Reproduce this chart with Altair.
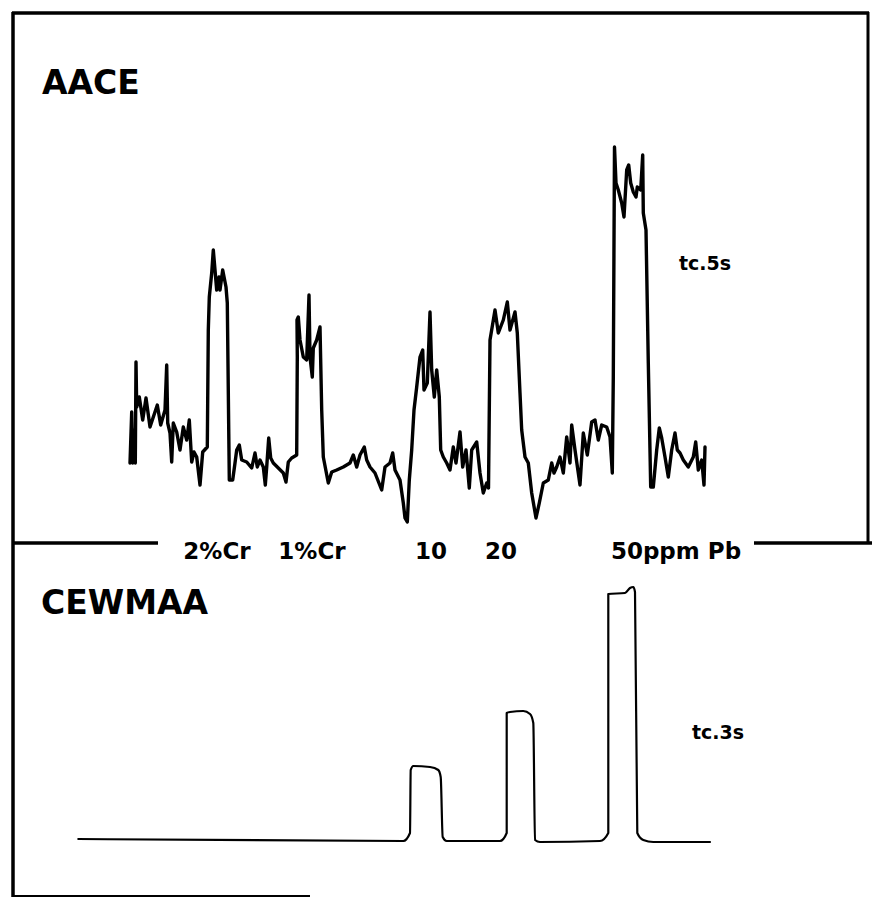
import altair as alt
import pandas as pd

# ---- AACE trace (time, signal in arbitrary units) ----
AACE_T = [130, 131.7, 132.7, 134, 135.3, 136, 136.7, 139.3, 142.7, 146, 150, 157.3, 160.7, 165, 166.7,
          167.7, 170, 171.7, 173.3, 176.7, 180, 183.3, 186.7, 189.3, 191.7, 194, 196.7, 200, 202.7,
          207.3, 208.3, 209.3, 211.7, 213.3, 215, 216.7, 219, 220, 222.7, 226, 227.3, 229.3, 232.7,
          235, 236.7, 239.3, 241.7, 246.7, 251.7, 255, 257.3, 260, 263.3, 265.3, 266.7, 268.7, 270.7,
          273.3, 278.3, 283.3, 286, 288.3, 291.7, 296.7, 297.3, 297.0, 298.3, 300, 303.3, 306.7, 309,
          310, 312.3, 313.3, 316.7, 320, 321.7, 323.3, 328.3, 331.7, 336.7, 343.3, 350, 353.3, 356.7,
          360, 364.3, 366.7, 370, 375, 381.7, 385, 390, 392.7, 395, 400, 403.3, 405, 407.3, 409.3,
          411.7, 414, 416.7, 420, 422.7, 424, 427.3, 430, 431.7, 434.3, 436.7, 439.3, 440.7, 443.3,
          446.7, 450, 453.3, 456, 460, 462.7, 466, 469.3, 471.7, 476.7, 480, 483.3, 486.7, 488.5,
          490, 495, 498.3, 503.3, 507.3, 510, 515, 517.3, 520, 521.7, 525, 528.3, 531.7, 536, 539.3,
          543.3, 548.3, 551.7, 554, 556.7, 560, 563.3, 566.7, 570, 571.7, 575, 580, 583.3, 587.3,
          591.7, 595, 598.3, 601.7, 606.7, 610, 612.3, 613.3, 614.5, 616, 618.3, 621.7, 624, 626.7,
          628.7, 630.7, 633.3, 636, 637.3, 640.7, 642.7, 643.3, 646, 648.3, 650.7, 653.3, 656.7,
          659.3, 661.7, 665, 668.3, 671.7, 675, 677.3, 680, 683.3, 688.3, 693.3, 695.7, 698.3, 701.7,
          704, 705]
AACE_S = [27, 78, 27, 60, 27, 128, 83, 93, 70, 92, 63, 85, 65, 80, 125,
          67, 57, 28, 67, 58, 40, 63, 50, 70, 28, 38, 33, 5, 38,
          43, 160, 193, 217, 240, 220, 200, 213, 200, 220, 203, 187, 10, 10,
          27, 40, 45, 30, 28, 22, 37, 23, 30, 23, 5, 23, 52, 32,
          27, 22, 17, 8, 28, 32, 35, 133, 170, 173, 150, 133, 130, 195,
          133, 113, 142, 150, 163, 80, 33, 7, 18, 20, 23, 27, 35, 23,
          35, 43, 30, 23, 17, 0, 23, 27, 37, 20, 10, -13, -28, -32, 10,
          40, 80, 103, 133, 140, 100, 107, 178, 120, 93, 120, 93, 40, 33,
          27, 20, 43, 27, 58, 23, 40, 2, 40, 48, 17, -3, 7, 2,
          150, 180, 157, 170, 188, 160, 178, 157, 97, 60, 33, 27, -3, -28, -13,
          7, 10, 27, 17, 23, 33, 17, 53, 27, 65, 40, 5, 57, 35,
          68, 70, 50, 65, 63, 53, 17, 113, 343, 307, 300, 287, 273, 320,
          325, 307, 298, 293, 303, 300, 335, 277, 260, 127, 3, 3, 40,
          62, 52, 33, 13, 40, 57, 40, 37, 30, 23, 33, 48, 20, 30,
          5, 43]

# ---- CEWMAA trace ----
CEW_T = [78.3, 403.3, 410, 410.7, 413.3, 430, 438.3, 440.7, 442.7, 446.7, 500, 506.7, 506.7, 510,
         523.3, 530, 533.3, 535, 540, 600, 608.3, 608.3, 625, 630, 633.3, 635, 637.3, 643.3, 653.3, 710]
CEW_S = [1, -1, 7, 70, 74, 73, 70, 63, 3, -1, -1, 7, 127, 128,
         129, 126, 117, 0, -2, -1, 7, 246, 247, 252, 253, 248, 7, 0, -2, -2]

# ---- sample labels ----
LABELS = ["2%Cr", "1%Cr", "10", "20", "50ppm Pb"]
LABEL_T = [217, 312, 431, 501, 676]

FONT = "DejaVu Sans"

top = pd.DataFrame({"t": AACE_T, "s": AACE_S, "i": list(range(len(AACE_T)))})
bot = pd.DataFrame({"t": CEW_T, "s": CEW_S, "i": list(range(len(CEW_T)))})
lab = pd.DataFrame({"t": LABEL_T, "label": LABELS})
dummy = pd.DataFrame({"d": [0]})

xscale = alt.Scale(domain=[0, 872], nice=False, zero=False)

line_top = alt.Chart(top).mark_line(color="black", strokeWidth=3.4, strokeJoin="round", strokeCap="round").encode(
    x=alt.X("t:Q", scale=xscale, axis=None),
    y=alt.Y("s:Q", scale=alt.Scale(domain=[-409, 490], nice=False, zero=False), axis=None),
    order="i:Q",
)
line_bot = alt.Chart(bot).mark_line(color="black", strokeWidth=2.2, strokeJoin="round", strokeCap="round",
                                    interpolate="monotone").encode(
    x=alt.X("t:Q", scale=xscale, axis=None),
    y=alt.Y("s:Q", scale=alt.Scale(domain=[-59, 840], nice=False, zero=False), axis=None),
    order="i:Q",
)


def rule(x1, x2, y1, y2, w):
    return alt.Chart(dummy).mark_rule(color="black", strokeWidth=w).encode(
        x=alt.value(x1), x2=alt.value(x2), y=alt.value(y1), y2=alt.value(y2))


def txt(s, x, y, size):
    return alt.Chart(dummy).mark_text(text=s, font=FONT, fontSize=size, fontWeight="bold",
                                      align="left", baseline="alphabetic", color="black").encode(
        x=alt.value(x), y=alt.value(y))


frame = [
    rule(12, 869, 13, 13, 3.5),
    rule(13, 13, 12, 897, 3.5),
    rule(868, 868, 12, 543, 3),
    rule(13, 310, 896, 896, 2),
    rule(13, 158, 543, 543, 3.5),
    rule(754, 872, 543, 543, 3.5),
]

labels = alt.Chart(lab).mark_text(font=FONT, fontSize=23, fontWeight="bold", align="center",
                                  baseline="alphabetic", color="black").encode(
    x=alt.X("t:Q", scale=xscale, axis=None),
    y=alt.value(559),
    text="label:N",
)

texts = [
    txt("AACE", 42, 94, 33),
    txt("CEWMAA", 41, 614, 33),
    txt("tc.5s", 679, 270, 19),
    txt("tc.3s", 692, 739, 19),
]

chart = alt.layer(line_top, line_bot, labels, *frame, *texts).resolve_scale(y="independent").properties(
    width=872, height=899, padding=0, autosize=alt.AutoSizeParams(type="none"), background="white"
).configure_view(stroke=None)

chart.save("out.html", embed_options={"renderer": "svg", "actions": False})
